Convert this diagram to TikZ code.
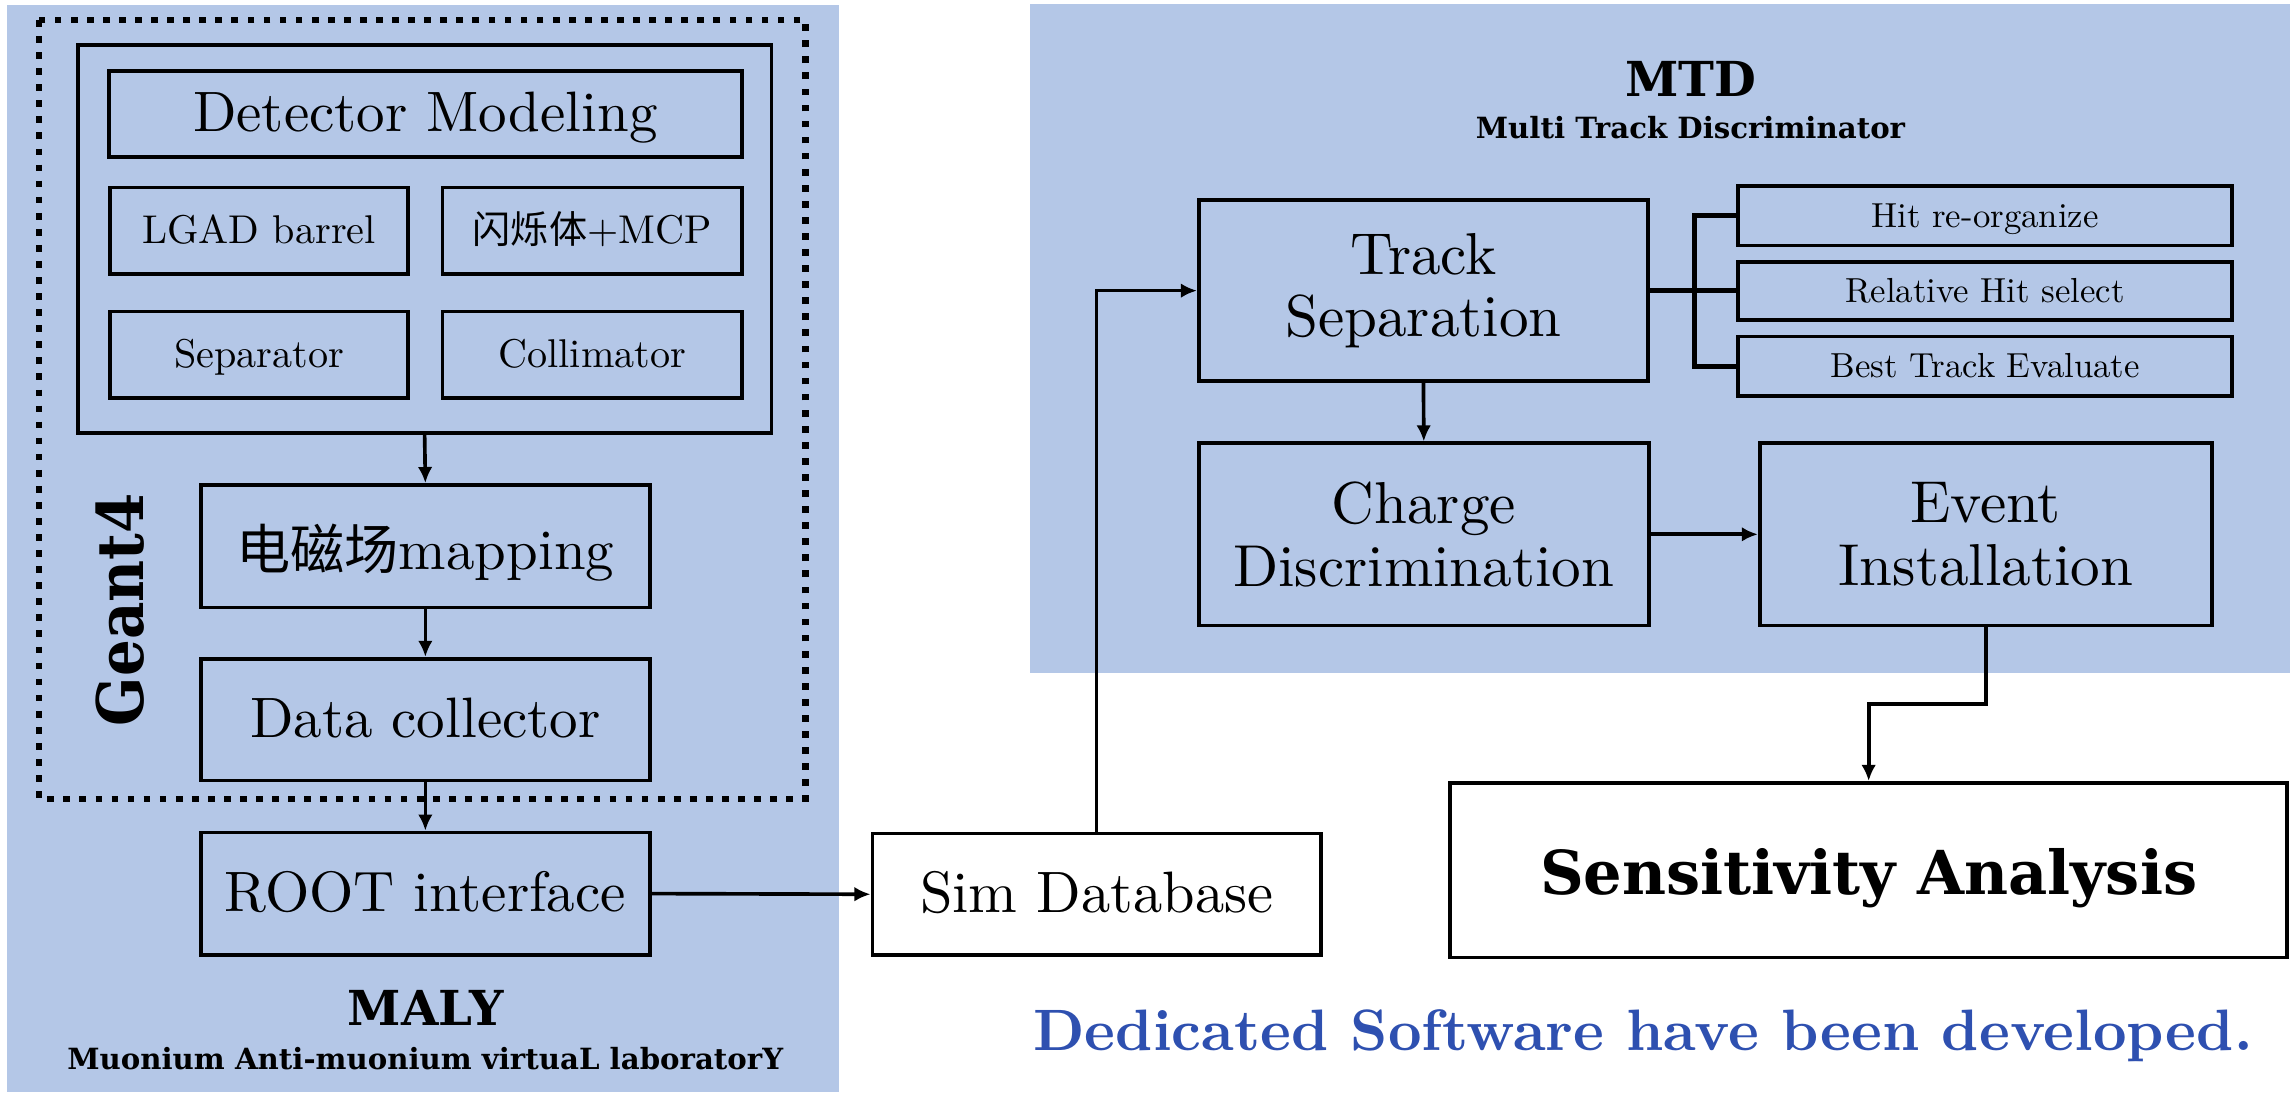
\documentclass[tikz,border=0pt]{standalone}
\usepackage{fontspec}
\setmainfont{lmroman10-regular}[Extension=.otf, BoldFont=lmroman10-bold]
\newfontfamily\cjk{Noto Sans CJK SC}[Scale=0.95]
\newfontfamily\slab{DejaVu Serif}
\usetikzlibrary{arrows.meta,calc}
\definecolor{panelblue}{RGB}{180,199,231}
\definecolor{noteblue}{RGB}{46,80,176}

\begin{document}
\begin{tikzpicture}[x=1pt,y=-1pt,
  box/.style={draw, line width=2.5pt, inner sep=0pt, align=center},
  bigtext/.style={font=\fontsize{39}{43}\selectfont, text height=34pt, text depth=9pt},
  twoline/.style={font=\fontsize{40.5}{43}\selectfont},
  midtext/.style={font=\fontsize{27.5}{30}\selectfont, text height=24pt, text depth=6pt},
  smalltext/.style={font=\fontsize{23.8}{27}\selectfont, text height=21pt, text depth=5pt},
  conn/.style={line width=2.5pt, -{Latex[length=11pt,width=10pt]}},
  bracket/.style={line width=3.3pt},
  slabtitle/.style={font=\slab\bfseries\fontsize{33}{36}\selectfont, anchor=base},
  slabsub/.style={font=\slab\bfseries\fontsize{20}{22}\selectfont, anchor=base}
]
\useasboundingbox (0,0) rectangle (1568,748);

% background panels
\fill[panelblue] (4.8,3.4) rectangle (574.5,748);
\fill[panelblue] (705.3,2.7) rectangle (1568,460.8);

% Geant4 frame
\draw[line width=4.6pt, dash pattern=on 4.6pt off 6.4pt] (26.7,13.7) rectangle (551.6,547);
\node[rotate=90, anchor=base, font=\slab\bfseries\fontsize{44}{48}\selectfont]
  (geantlabel) at (98,417.5) {\scalebox{0.9}[1]{Geant4}};

% detector block
\node[box, minimum width=474.9pt, minimum height=265.6pt] (detector) at (290.75,163.8) {};
\node[box, bigtext, minimum width=433.4pt, minimum height=58.9pt] (detmod) at (291.3,77.85) {Detector Modeling};
\node[box, midtext, minimum width=204.3pt, minimum height=59.3pt] (lgad) at (177.35,157.95) {LGAD barrel};
\node[box, midtext, minimum width=205pt, minimum height=59.3pt] (scint) at (405.5,157.95) {{\cjk 闪烁体}+MCP};
\node[box, midtext, minimum width=204.3pt, minimum height=58.9pt] (separator) at (177.35,242.85) {Separator};
\node[box, midtext, minimum width=205pt, minimum height=58.9pt] (collimator) at (405.5,242.85) {Collimator};

% simulation chain
\node[box, bigtext, text height=38pt, text depth=6pt, minimum width=307.5pt, minimum height=84pt] (emfield) at (291.25,374) {{\cjk 电磁场}mapping};
\node[box, bigtext, minimum width=307.5pt, minimum height=83.5pt] (datacol) at (291.25,492.75) {Data collector};
\node[box, bigtext, minimum width=307.5pt, minimum height=83.7pt] (root) at (291.25,611.85) {ROOT interface};
\node[box, bigtext, fill=white, font=\fontsize{40}{43}\selectfont, minimum width=307.2pt, minimum height=83.4pt] (simdb) at (750.9,612.3) {Sim Database};

\node[slabtitle] (maly) at (291.6,702) {MALY};
\node[slabsub] (malysub) at (291.2,732) {Muonium Anti-muonium virtuaL laboratorY};

% MTD block
\node[slabtitle] (mtd) at (1157.5,66) {MTD};
\node[slabsub] (mtdsub) at (1157.5,95) {Multi Track Discriminator};

\node[box, twoline, minimum width=307.7pt, minimum height=124pt] (track) at (974.65,199) {Track\\Separation};
\node[box, twoline, minimum width=308.2pt, minimum height=124.7pt] (charge) at (974.9,365.85) {Charge\\Discrimination};
\node[box, twoline, minimum width=309.6pt, minimum height=124.7pt] (event) at (1359.7,365.85) {Event\\Installation};

\node[box, smalltext, minimum width=338.4pt, minimum height=40.8pt] (hit1) at (1359.2,147.8) {Hit re-organize};
\node[box, smalltext, minimum width=338.4pt, minimum height=39.8pt] (hit2) at (1359.2,199.1) {Relative Hit select};
\node[box, smalltext, minimum width=338.4pt, minimum height=40.5pt] (hit3) at (1359.2,250.75) {Best Track Evaluate};

\node[box, fill=white, font=\slab\bfseries\fontsize{41.5}{45}\selectfont, text height=41pt, text depth=8pt,
  minimum width=573pt, minimum height=119.7pt] (sens) at (1279.5,595.85) {Sensitivity Analysis};

\node[anchor=base, text=noteblue, font=\bfseries\fontsize{40}{44}\selectfont] (note) at (1125,719)
  {Dedicated Software have been developed.};

% connectors
\draw[conn] (detector.south) -- (emfield.north);
\draw[conn] (emfield.south) -- (datacol.north);
\draw[conn] (datacol.south) -- (root.north);
\draw[conn] (root.east) -- (simdb.west);
\draw[conn] (simdb.north) |- (track.west);
\draw[conn] (track.south) -- (charge.north);
\draw[conn] (charge.east) -- (event.west);
\draw[conn] (event.south) |- ($(event.south)!0.5!(sens.north)$) -| (sens.north);

% bracket to the track sub-steps
\coordinate (hub) at (1160,199);
\draw[bracket] (track.east) -- (hub);
\draw[bracket] (hit1.west) -| (hub);
\draw[bracket] (hit3.west) -| (hub);
\draw[bracket] (hit2.west) -- (hit2.west -| hub);
\end{tikzpicture}
\end{document}
